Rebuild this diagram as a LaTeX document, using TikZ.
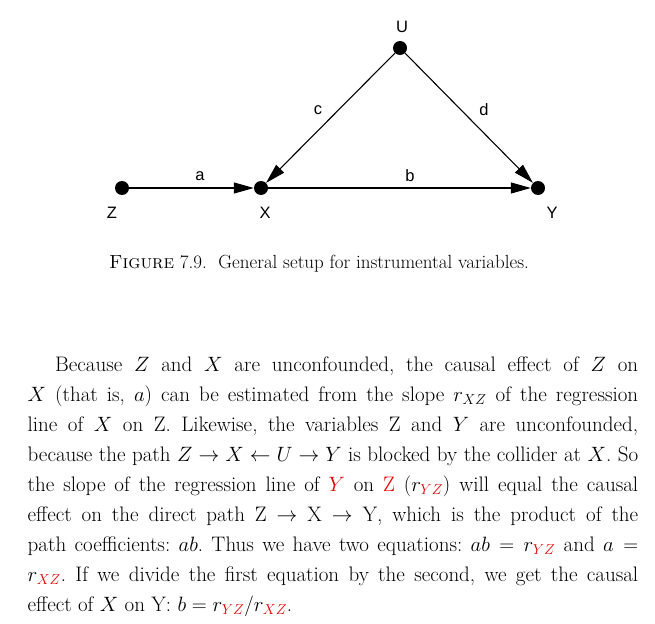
\documentclass[tikz,border=0pt]{standalone}
\usepackage{fontspec}
\newfontfamily\sansf{Liberation Sans}
\usetikzlibrary{arrows.meta}
\definecolor{hired}{RGB}{228,0,0}
\newcommand{\rd}[1]{\textcolor{hired}{#1}}
\frenchspacing
\begin{document}
\begin{tikzpicture}[x=1pt,y=-1pt,
  dot/.style={circle,fill=black,inner sep=0pt,minimum size=14pt},
  arr/.style={line width=1.1pt,-{Triangle[length=20pt,width=11pt]}},
  lab/.style={font=\sansf\fontsize{16.5}{20}\selectfont,inner sep=0pt},
  bodyline/.style={anchor=base west,inner sep=0pt,font=\fontsize{21}{25}\selectfont\addfontfeature{LetterSpace=3,FakeBold=0.3}}]
\useasboundingbox (0,0) rectangle (655,623);
% diagram
\node[dot] (Z) at (122,188) {};
\node[dot] (X) at (261,188) {};
\node[dot] (Y) at (538,188) {};
\node[dot] (U) at (400,48) {};
\node[lab] (lz) at (112,213) {Z};
\node[lab] (lx) at (265,213) {X};
\node[lab] (ly) at (552,213) {Y};
\node[lab] (lu) at (402,27) {U};
\draw[arr] (Z) -- (X);
\draw[arr] (X) -- (Y);
\draw[arr] (U) -- (X);
\draw[arr] (U) -- (Y);
\node[lab] (la) at (200,176) {a};
\node[lab] (lb) at (410,176) {b};
\node[lab] (lc) at (318,110) {c};
\node[lab] (ld) at (484,110) {d};
% caption
\node[anchor=base,inner sep=0pt,font=\fontsize{19}{23}\selectfont\addfontfeature{LetterSpace=5,FakeBold=0.2}] (cap) at (319,268)
  {\textsc{Figure} 7.9.\ \ General setup for instrumental variables.};
% body text
\node[bodyline] (t1) at (55,371) {\makebox[583pt][s]{Because $Z$ and $X$ are unconfounded, the causal effect of $Z$ on}};
\node[bodyline] (t2) at (27.5,401) {\makebox[610.5pt][s]{$X$ (that is, $a$) can be estimated from the slope $r_{XZ}$ of the regression}};
\node[bodyline] (t3) at (27.5,431) {\makebox[610.5pt][s]{line of $X$ on Z. Likewise, the variables Z and $Y$ are unconfounded,}};
\node[bodyline] (t4) at (27.5,461) {\makebox[610.5pt][s]{because the path $Z\to X\leftarrow U\to Y$ is blocked by the collider at $X$. So}};
\node[bodyline] (t5) at (27.5,491) {\makebox[610.5pt][s]{the slope of the regression line of \rd{$Y$} on \rd{Z} ($r_{\rd{\scriptstyle YZ}}$) will equal the causal}};
\node[bodyline] (t6) at (27.5,521) {\makebox[610.5pt][s]{effect on the direct path Z $\to$ X $\to$ Y, which is the product of the}};
\node[bodyline] (t7) at (27.5,551) {\makebox[610.5pt][s]{path coefficients: $ab$. Thus we have two equations: $ab = r_{\rd{\scriptstyle YZ}}$ and $a =$}};
\node[bodyline] (t8) at (27.5,581) {\makebox[610.5pt][s]{$r_{\rd{\scriptstyle XZ}}$. If we divide the first equation by the second, we get the causal}};
\node[bodyline] (t9) at (27.5,611) {effect of $X$ on Y: $b = r_{\rd{\scriptstyle YZ}}/r_{\rd{\scriptstyle XZ}}$.};
\end{tikzpicture}
\end{document}
